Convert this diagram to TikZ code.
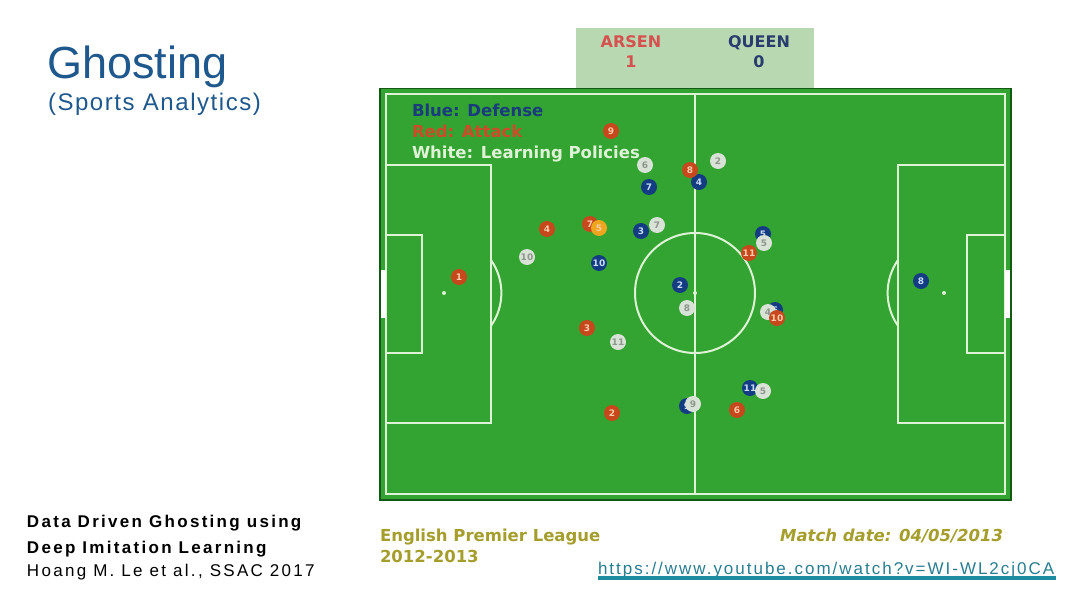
\documentclass[tikz,border=0pt]{standalone}
\usepackage{fontspec}
\setmainfont{Liberation Sans}
\newfontfamily\djv{DejaVu Sans}
\newfontfamily\spaced[LetterSpace=11.7]{Liberation Sans}
\newfontfamily\refspaced[LetterSpace=13.5]{Liberation Sans}
\newfontfamily\titlespaced[LetterSpace=6.5]{Liberation Sans}
\definecolor{titleblue}{RGB}{30,88,140}
\definecolor{pitch}{RGB}{51,163,49}
\definecolor{pitchedge}{RGB}{20,90,20}
\definecolor{chalk}{RGB}{222,242,214}
\definecolor{scorebg}{RGB}{184,216,178}
\definecolor{arsred}{RGB}{214,80,80}
\definecolor{qblue}{RGB}{40,60,110}
\definecolor{legblue}{RGB}{25,60,125}
\definecolor{legred}{RGB}{205,75,40}
\definecolor{olive}{RGB}{165,158,45}
\definecolor{teal}{RGB}{30,140,160}
\definecolor{urltxt}{RGB}{40,125,145}
\definecolor{defb}{RGB}{20,60,130}
\definecolor{defbtxt}{RGB}{200,220,245}
\definecolor{attr}{RGB}{200,72,30}
\definecolor{attrtxt}{RGB}{250,205,170}
\definecolor{ghost}{RGB}{216,226,214}
\definecolor{ghosttxt}{RGB}{140,150,140}
\definecolor{ballc}{RGB}{240,165,30}
\begin{document}
\begin{tikzpicture}[x=1pt,y=-1pt,
  txt/.style={inner sep=0pt,outer sep=0pt},
  pl/.style={circle,inner sep=0pt,minimum size=16pt,font=\djv\bfseries\fontsize{9}{9}\selectfont},
  bp/.style={pl,fill=defb,text=defbtxt},
  rp/.style={pl,fill=attr,text=attrtxt},
  gp/.style={pl,fill=ghost,text=ghosttxt},
  yp/.style={pl,fill=ballc,text=attrtxt},
  chalkline/.style={draw=chalk,line width=2pt}]
\useasboundingbox[fill=white] (0,0) rectangle (1080,608);

% title
\node[txt,anchor=base west,text=titleblue,font=\fontsize{45}{45}\selectfont] (title) at (47,78) {Ghosting};
\node[txt,anchor=base west,text=titleblue,font=\titlespaced\fontsize{24}{24}\selectfont] (subtitle) at (48,110) {(Sports Analytics)};

% scoreboard
\fill[scorebg] (576,28) rectangle (814,88);
\node[txt,anchor=base,text=arsred,font=\djv\bfseries\fontsize{16}{16}\selectfont] (ars) at (631,47) {ARSEN};
\node[txt,anchor=base,text=arsred,font=\djv\bfseries\fontsize{16}{16}\selectfont] (arsn) at (631,67) {1};
\node[txt,anchor=base,text=qblue,font=\djv\bfseries\fontsize{16}{16}\selectfont] (que) at (759,47) {QUEEN};
\node[txt,anchor=base,text=qblue,font=\djv\bfseries\fontsize{16}{16}\selectfont] (quen) at (759,67) {0};

% pitch
\fill[pitch,draw=pitchedge,line width=1.2pt] (380,88.5) rectangle (1011,500);
\draw[chalkline] (386,94) rectangle (1005,494);
\draw[chalkline] (695,94) -- (695,494);
\draw[chalkline] (695,293) circle[radius=60];
\fill[chalk] (695,293) circle[radius=2];
\draw[chalkline] (386,165) rectangle (491,423);
\draw[chalkline] (386,235) rectangle (422,353);
\draw[chalkline] (491,260) arc[start angle=-35,end angle=35,radius=57.4];
\fill[chalk] (444,293) circle[radius=2];
\draw[chalkline] (1005,165) rectangle (898,423);
\draw[chalkline] (1005,235) rectangle (967,353);
\draw[chalkline] (898,260) arc[start angle=215,end angle=145,radius=57.4];
\fill[chalk] (944,293) circle[radius=2];
\fill[white] (381,270) rectangle (386,318);
\fill[white] (1005,270) rectangle (1010,318);

% legend
\node[txt,anchor=base west,text=legblue,font=\djv\bfseries\fontsize{16.5}{16.5}\selectfont] (lb) at (412,116) {Blue: Defense};
\node[txt,anchor=base west,text=legred,font=\djv\bfseries\fontsize{16.5}{16.5}\selectfont] (lr) at (412,137) {Red: Attack};
\node[txt,anchor=base west,text=chalk,font=\djv\bfseries\fontsize{16.5}{16.5}\selectfont] (lw) at (412,158) {White: Learning Policies};

% defense (blue)
\foreach \n/\x/\y/\l in {b7/649/187/7, b4/699/182/4, b3/641/231/3, b10/599/263/10, b5/763/234/5, b2/680/285/2, b8/921/281/8, b11/750/388/11, b9/687/406/9, b6/775/310/6}
  \node[bp] (\n) at (\x,\y) {\l};
% ghosts (white)
\foreach \n/\x/\y/\l in {g6/645/165/6, g2/718/161/2, g7/657/225/7, g5/764/243/5, g10/527/257/10, g8/687/308/8, g11/618/342/11, g4/768/312/4, g5b/763/391/5, g9/693/404/9}
  \node[gp] (\n) at (\x,\y) {\l};
% attack (red)
\foreach \n/\x/\y/\l in {r9/611/131/9, r8/690/170/8, r4/547/229/4, r7/590/224/7, r11/749/253/11, r1/459/277/1, r3/587/328/3, r10/777/318/10, r2/612/413/2, r6/737/410/6}
  \node[rp] (\n) at (\x,\y) {\l};
\node[yp] (ball) at (599,228) {5};

% bottom captions
\node[txt,anchor=base west,text=olive,font=\djv\bfseries\fontsize{16.5}{16.5}\selectfont] (epl) at (380,541) {English Premier League};
\node[txt,anchor=base west,text=olive,font=\djv\bfseries\fontsize{16.5}{16.5}\selectfont] (season) at (380,562) {2012-2013};
\node[txt,anchor=base east,text=olive,font=\djv\bfseries\itshape\fontsize{16.5}{16.5}\selectfont] (date) at (1003,541) {Match date: 04/05/2013};
\node[txt,anchor=base west,text=urltxt,font=\spaced\fontsize{17}{17}\selectfont] (url) at (598,574) {https://www.youtube.com/watch?v=WI-WL2cj0CA};
\fill[teal] (598,575.5) rectangle (1056,580);

% reference
\node[txt,anchor=base west,text=black,font=\refspaced\bfseries\fontsize{17}{17}\selectfont] (ref1) at (27,527) {Data Driven Ghosting using};
\node[txt,anchor=base west,text=black,font=\refspaced\bfseries\fontsize{17}{17}\selectfont] (ref2) at (27,553) {Deep Imitation Learning};
\node[txt,anchor=base west,text=black,font=\refspaced\fontsize{17}{17}\selectfont] (ref3) at (27,576) {Hoang M. Le et al., SSAC 2017};
\end{tikzpicture}
\end{document}
